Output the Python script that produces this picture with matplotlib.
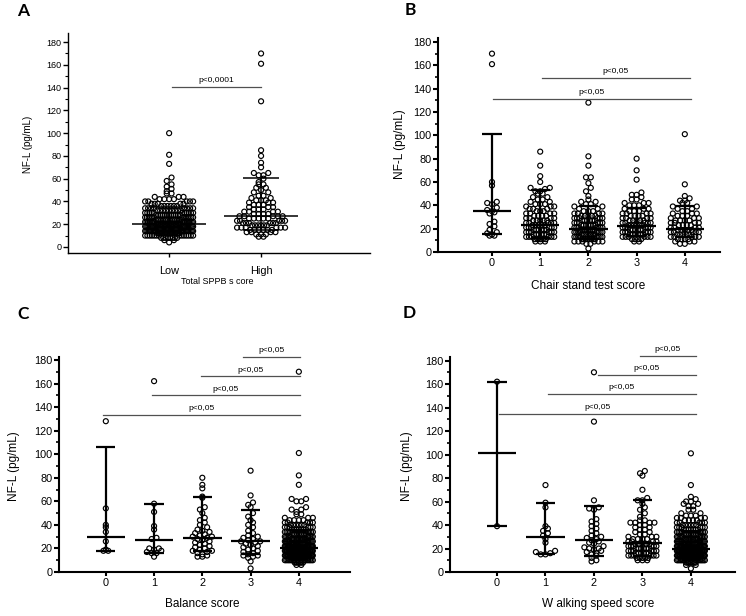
import numpy as np
import matplotlib
matplotlib.use('Agg')
import matplotlib.pyplot as plt
from matplotlib.ticker import MultipleLocator

plt.rcParams['font.family'] = ['Liberation Sans', 'DejaVu Sans']

# ---------------- data (NF-L, pg/mL) ----------------
# dense groups: value levels + how many dots sit on each level
# sparse groups: plain list of values

# A - total SPPB score
a_cats = ['Low', 'High']
a_low_y = [4, 6, 8, 10, 12, 14, 16, 18, 20, 22, 24, 26, 28, 30, 32, 34, 36, 38, 40, 42, 44,
           47, 49, 51, 53, 55, 58, 61, 73, 81, 100]
a_low_n = [1, 2, 8, 14, 19, 21, 22, 21, 19, 17, 15, 13, 12, 11, 9, 8, 6, 5, 5, 4, 3,
           2, 1, 1, 1, 1, 1, 1, 1, 1, 1]
a_high_y = [9, 11, 13, 15, 17, 19, 21, 23, 25, 27, 29, 31, 33, 35, 37, 39, 41, 43, 45, 48,
            50, 52, 55, 57, 60, 63, 65, 70, 74, 80, 85, 128, 161, 170]
a_high_n = [2, 3, 4, 6, 6, 6, 6, 5, 5, 5, 4, 4, 3, 3, 3, 3, 3, 2, 2, 2,
            1, 2, 2, 1, 1, 2, 2, 1, 1, 1, 1, 1, 1, 1]
a_med = [20, 27]
a_lo = [12, 15]
a_hi = [35, 61]

# B - chair stand test score
b_cats = ['0', '1', '2', '3', '4']
b0_y = [14, 14, 15, 16, 17, 19, 22, 24, 26, 33, 34, 35, 36, 38, 41, 42, 43, 57, 60, 161, 170]
b1_y = [9, 11, 13, 15, 17, 19, 21, 23, 25, 27, 29, 31, 33, 35, 37, 39, 41, 43, 45, 47,
        50, 52, 54, 55, 60, 65, 74, 86]
b1_n = [3, 5, 6, 6, 6, 6, 6, 5, 5, 5, 4, 4, 4, 3, 3, 3, 3, 2, 2, 2,
        2, 2, 1, 2, 1, 1, 1, 1]
b2_y = [3, 7, 9, 11, 13, 15, 17, 19, 21, 23, 25, 27, 29, 31, 33, 35, 37, 39, 41, 43,
        45, 48, 52, 55, 59, 64, 74, 82, 128]
b2_n = [1, 2, 6, 8, 8, 8, 8, 8, 7, 7, 6, 6, 6, 5, 4, 3, 2, 2, 2, 2,
        1, 1, 1, 1, 1, 2, 1, 1, 1]
b3_y = [9, 11, 13, 15, 17, 19, 21, 23, 25, 27, 29, 31, 33, 35, 37, 40, 42, 45, 47, 49,
        51, 62, 70, 80]
b3_n = [2, 4, 6, 6, 6, 6, 6, 6, 5, 5, 4, 4, 4, 3, 3, 3, 3, 2, 1, 2,
        1, 1, 1, 1]
b4_y = [7, 9, 11, 13, 15, 17, 19, 21, 23, 25, 27, 29, 31, 33, 35, 37, 39, 42, 44, 46,
        48, 58, 101]
b4_n = [2, 3, 4, 5, 5, 5, 5, 4, 4, 4, 4, 3, 3, 3, 2, 2, 2, 2, 2, 1,
        1, 1, 1]
b_med = [35, 23, 20, 22, 20]
b_lo = [15, 12, 11, 14, 13]
b_hi = [101, 53, 39, 38, 39]

# C - balance score
c_cats = ['0', '1', '2', '3', '4']
c0_y = [18, 18, 19, 26, 34, 38, 40, 54, 128]
c1_y = [13, 16, 16, 17, 18, 19, 20, 20, 28, 29, 36, 39, 51, 58, 162]
c2_y = [13, 13, 14, 15, 16, 17, 18, 18, 19, 20, 21, 22, 23, 24, 25, 26, 27, 28, 29, 30,
        30, 31, 32, 33, 34, 35, 36, 38, 40, 42, 44, 46, 50, 53, 55, 63, 64, 71, 74, 80]
c3_y = [3, 9, 12, 13, 14, 14, 15, 16, 17, 18, 19, 20, 21, 22, 23, 24, 25, 26, 26, 27,
        28, 29, 30, 31, 33, 35, 38, 40, 42, 44, 47, 50, 55, 57, 59, 65, 86]
c4_y = [6, 8, 10, 12, 14, 16, 18, 20, 22, 24, 26, 28, 30, 32, 34, 36, 38, 40, 42, 44,
        46, 49, 51, 53, 55, 60, 62, 74, 82, 101, 170]
c4_n = [2, 7, 14, 18, 20, 21, 20, 19, 17, 15, 13, 12, 10, 9, 8, 7, 6, 6, 5, 4,
        3, 2, 1, 2, 1, 2, 2, 1, 1, 1, 1]
c_med = [30, 27, 29, 26, 20]
c_lo = [18, 16, 18, 15, 12]
c_hi = [106, 58, 64, 53, 36]

# D - walking speed score
d_cats = ['0', '1', '2', '3', '4']
d0_y = [39, 162]
d1_y = [15, 15, 16, 17, 18, 25, 28, 31, 33, 35, 37, 39, 55, 59, 74]
d2_y = [9, 10, 12, 14, 15, 16, 17, 18, 19, 20, 20, 21, 22, 24, 25, 26, 27, 28, 29, 30,
        31, 33, 35, 37, 39, 41, 43, 45, 53, 54, 55, 61, 128, 170]
d3_y = [10, 12, 14, 16, 18, 20, 22, 24, 26, 28, 30, 32, 34, 36, 38, 40, 42, 44, 47, 50,
        53, 55, 58, 61, 63, 70, 82, 84, 86]
d3_n = [3, 5, 6, 6, 6, 6, 6, 5, 4, 4, 3, 2, 2, 2, 2, 2, 4, 2, 1, 1,
        1, 1, 1, 2, 1, 1, 1, 1, 1]
d4_y = [3, 6, 8, 10, 12, 14, 16, 18, 20, 22, 24, 26, 28, 30, 32, 34, 36, 38, 40, 42,
        44, 46, 48, 50, 53, 56, 58, 60, 62, 64, 74, 101]
d4_n = [1, 2, 8, 14, 18, 20, 20, 20, 19, 17, 15, 13, 11, 10, 9, 8, 7, 6, 6, 5,
        4, 4, 3, 2, 2, 2, 2, 2, 1, 1, 1, 1]
d_med = [101, 30, 27, 25, 20]
d_lo = [39, 15, 14, 14, 12]
d_hi = [162, 59, 56, 61, 35]

# significance bars: start, end, height
a_sig = [(0.03, 1.0, 140.5, 'p<0,0001')]
b_sig = [(0.02, 4.12, 131.5, 'p<0,05'), (1.04, 4.1, 149, 'p<0,05')]
c_sig = [(-0.06, 4.02, 133.5, 'p<0,05'), (0.95, 4.02, 150, 'p<0,05'),
         (1.98, 4.02, 166, 'p<0,05'), (2.85, 4.02, 182.5, 'p<0,05')]
d_sig = [(0.04, 4.1, 134.6, 'p<0,05'), (1.05, 4.1, 151.6, 'p<0,05'),
         (2.08, 4.1, 167.5, 'p<0,05'), (2.94, 4.1, 183.7, 'p<0,05')]


def pts(y, n=None):
    if n is None:
        return np.asarray(y, float)
    return np.repeat(np.asarray(y, float), n)


def swarm(ax, xc, y, half_px, dot_px=4.8):
    # rows of dots like a prism scatter plot, squeezed when a row is too wide
    p0, p1 = ax.transData.transform([[0, 0], [1, 1]])
    ppx, ppy = p1 - p0
    rows = np.round(y * ppy / dot_px).astype(int)
    xs = np.zeros_like(y)
    for r in np.unique(rows):
        idx = np.where(rows == r)[0]
        idx = idx[np.argsort(y[idx], kind='stable')]
        n = len(idx)
        step = dot_px if n < 2 else min(dot_px, 2 * half_px / (n - 1))
        slots = (np.arange(n) - (n - 1) / 2) * step
        slots = slots[np.argsort(np.abs(slots), kind='stable')]
        xs[idx] = xc + slots / ppx
    return xs


def panel(ax, groups, med, lo, hi, sigs, half_px, lw, fs_sig):
    for i, y in enumerate(groups):
        xs = swarm(ax, i, y, half_px)
        ax.scatter(xs, y, s=13, facecolors='none', edgecolors='black',
                   linewidths=0.85, zorder=2, clip_on=False)
    for i in range(len(med)):
        ax.vlines(i, lo[i], hi[i], color='black', lw=lw, zorder=3)
        ax.hlines([lo[i], hi[i]], i - 0.2, i + 0.2, color='black', lw=lw, zorder=3)
        ax.hlines(med[i], i - 0.4, i + 0.4, color='black', lw=lw, zorder=3)
    for x0, x1, h, txt in sigs:
        ax.plot([x0, x1], [h, h], color='#505050', lw=0.9, clip_on=False)
        ax.annotate(txt, ((x0 + x1) / 2, h), xytext=(0, 2), textcoords='offset points',
                    ha='center', va='bottom', fontsize=fs_sig, annotation_clip=False)


def style(ax, lw, fs_tick, fs_xtick, xpad):
    for s in ['top', 'right']:
        ax.spines[s].set_visible(False)
    for s in ['left', 'bottom']:
        ax.spines[s].set_linewidth(lw)
    ax.yaxis.set_major_locator(MultipleLocator(20))
    ax.yaxis.set_minor_locator(MultipleLocator(10))
    ax.tick_params(axis='y', which='major', length=3.5, width=lw, labelsize=fs_tick, pad=1)
    ax.tick_params(axis='y', which='minor', length=2, width=lw * 0.8)
    ax.tick_params(axis='x', length=3, width=lw, labelsize=fs_xtick, pad=xpad)


W, H = 746, 616
fig = plt.figure(figsize=(W / 100, H / 100), dpi=100)


def rect(l, r, t, b):
    return [l / W, 1 - b / H, (r - l) / W, (b - t) / H]


axA = fig.add_axes(rect(68, 370, 33, 253))
axB = fig.add_axes(rect(438, 720, 38, 252))
axC = fig.add_axes(rect(59, 350, 357, 572))
axD = fig.add_axes(rect(450, 735, 357, 572))

axA.set_xlim(-1.10, 2.185)
axA.set_ylim(-5.3, 188)
axB.set_xlim(-1.12, 4.73)
axB.set_ylim(0, 183.4)
axC.set_xlim(-0.97, 5.06)
axC.set_ylim(0, 182.5)
axD.set_xlim(-0.97, 4.91)
axD.set_ylim(0, 183)

panel(axA, [pts(a_low_y, a_low_n), pts(a_high_y, a_high_n)],
      a_med, a_lo, a_hi, a_sig, 24, 1.1, 6)
panel(axB, [pts(b0_y), pts(b1_y, b1_n), pts(b2_y, b2_n), pts(b3_y, b3_n), pts(b4_y, b4_n)],
      b_med, b_lo, b_hi, b_sig, 14, 1.6, 6)
panel(axC, [pts(c0_y), pts(c1_y), pts(c2_y), pts(c3_y), pts(c4_y, c4_n)],
      c_med, c_lo, c_hi, c_sig, 14, 1.6, 6)
panel(axD, [pts(d0_y), pts(d1_y), pts(d2_y), pts(d3_y, d3_n), pts(d4_y, d4_n)],
      d_med, d_lo, d_hi, d_sig, 14, 1.6, 6)

style(axA, 1.0, 6.5, 7.8, 6)
style(axB, 1.5, 7.8, 7.8, 1.5)
style(axC, 1.5, 7.8, 7.8, 1.5)
style(axD, 1.5, 7.8, 7.8, 1.5)

axA.set_xticks(range(len(a_cats)), a_cats)
axB.set_xticks(range(len(b_cats)), b_cats)
axC.set_xticks(range(len(c_cats)), c_cats)
axD.set_xticks(range(len(d_cats)), d_cats)

axA.set_ylabel('NF-L (pg/mL)', fontsize=7)
axA.set_xlabel('Total SPPB s core', fontsize=6.5)
axA.yaxis.set_label_coords(-0.116, 0.495)
axA.xaxis.set_label_coords(0.493, -0.109)

axB.set_ylabel('NF-L (pg/mL)', fontsize=8.5)
axB.set_xlabel('Chair stand test score', fontsize=8.5)
axB.yaxis.set_label_coords(-0.113, 0.505)
axB.xaxis.set_label_coords(0.532, -0.131)

axC.set_ylabel('NF-L (pg/mL)', fontsize=8.5)
axC.set_xlabel('Balance score', fontsize=8.5)
axC.yaxis.set_label_coords(-0.134, 0.493)
axC.xaxis.set_label_coords(0.491, -0.121)

axD.set_ylabel('NF-L (pg/mL)', fontsize=8.5)
axD.set_xlabel('W alking speed score', fontsize=8.5)
axD.yaxis.set_label_coords(-0.13, 0.493)
axD.xaxis.set_label_coords(0.519, -0.121)

for letter, (px, py) in zip('ABCD', [(23, 11), (410, 10), (23, 314), (409, 313)]):
    fig.text(px / W, 1 - py / H, letter, ha='center', va='center', fontsize=12.5,
             fontweight='bold', family=['Lato', 'DejaVu Sans'])

fig.savefig('out.png', dpi=100)
